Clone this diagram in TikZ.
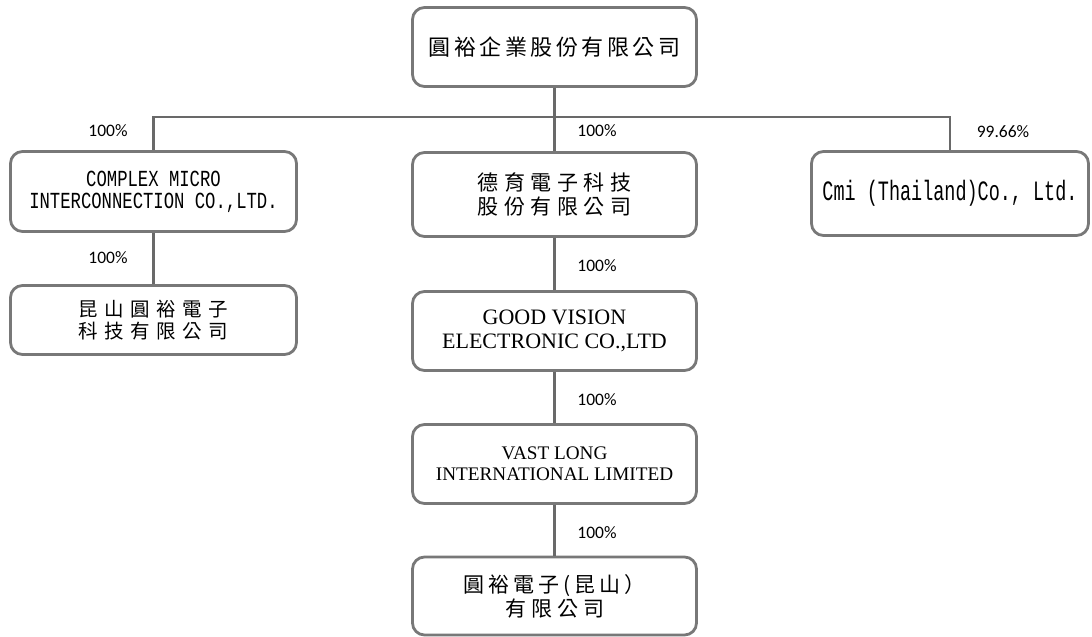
\documentclass[tikz,border=0pt]{standalone}
\usepackage{fontspec}
\newfontfamily\cjkfont{Noto Sans CJK TC}
\newfontfamily\monofnt[FakeStretch=0.75]{Liberation Mono}
\newfontfamily\monofntb[FakeStretch=0.66]{Liberation Mono}
\newfontfamily\tmsfont{Liberation Serif}
\newfontfamily\calfont{Carlito}
\newlength\cjksp
\setlength\cjksp{6pt}
\def\spc#1{\spci#1\relax}
\def\spci#1{\ifx\relax#1\unskip\else#1\hspace{\cjksp}\expandafter\spci\fi}
\definecolor{bordergray}{RGB}{120,120,120}
\definecolor{linegray}{RGB}{105,105,105}
\tikzset{
  box/.style={draw=bordergray, line width=2.8pt, rounded corners=12pt, fill=white,
    align=center, inner sep=0pt, minimum width=284pt, text=black},
  conn/.style={draw=linegray, line width=2.6pt},
  pct/.style={font=\calfont\fontsize{17.5}{18}\selectfont, text=black, inner sep=0pt},
  cjkbig/.style={font=\cjkfont\fontsize{22}{25}\selectfont},
  cjkmid/.style={font=\cjkfont\fontsize{21}{24}\selectfont},
  cjksml/.style={font=\cjkfont\fontsize{19.5}{22.5}\selectfont},
}
\begin{document}
\begin{tikzpicture}[x=1pt,y=-1pt]
\useasboundingbox (0,0) rectangle (1092,637);

\node[box, cjkbig, minimum height=79pt] (top) at (554.5,47) {\setlength\cjksp{3.5pt}\spc{圓裕企業股份有限公司}};

\node[box, minimum width=286pt, minimum height=80pt,
  font=\monofnt\fontsize{23}{22}\selectfont] (cmi) at (153.5,191.5)
  {COMPLEX MICRO\\INTERCONNECTION CO.,LTD.};

\node[box, cjkmid, minimum height=84pt] (dy) at (554.5,194.5)
  {\setlength\cjksp{5.5pt}\spc{德育電子科技}\\\setlength\cjksp{5.5pt}\spc{股份有限公司}};

\node[box, minimum width=277pt, minimum height=84pt,
  font=\monofntb\fontsize{28}{30}\selectfont] (th) at (950,193.5)
  {Cmi (Thailand)Co., Ltd.};

\node[box, cjksml, minimum width=286pt, minimum height=69pt] (ks) at (153.5,320)
  {\setlength\cjksp{6.5pt}\spc{昆山圓裕電子}\\\setlength\cjksp{6.5pt}\spc{科技有限公司}};

\node[box, minimum height=79pt, font=\tmsfont\fontsize{22}{24}\selectfont] (gv) at (554.5,331)
  {GOOD VISION\\ELECTRONIC CO.,LTD};

\node[box, minimum height=79pt, font=\tmsfont\fontsize{19.2}{21}\selectfont] (vl) at (554.5,464)
  {VAST LONG\\INTERNATIONAL LIMITED};

\node[box, cjkmid, minimum height=78pt] (yk) at (554.5,596)
  {\setlength\cjksp{4pt}\spc{圓裕電子(昆山）}\\\setlength\cjksp{5pt}\spc{有限公司}};

\coordinate (bus) at (554.5,117);
\draw[conn] (top.south) -- (dy.north);
\draw[conn] (cmi.north) |- (bus) -| (th.north);
\draw[conn] (cmi.south) -- (ks.north);
\draw[conn] (dy.south) -- (gv.north);
\draw[conn] (gv.south) -- (vl.north);
\draw[conn] (vl.south) -- (yk.north);

\node[pct] (p1) at (108,131) {100\%};
\node[pct] (p2) at (597,131) {100\%};
\node[pct] (p3) at (1003,132) {99.66\%};
\node[pct] (p4) at (108,258) {100\%};
\node[pct] (p5) at (597,266) {100\%};
\node[pct] (p6) at (597,400) {100\%};
\node[pct] (p7) at (597,533) {100\%};
\end{tikzpicture}
\end{document}
